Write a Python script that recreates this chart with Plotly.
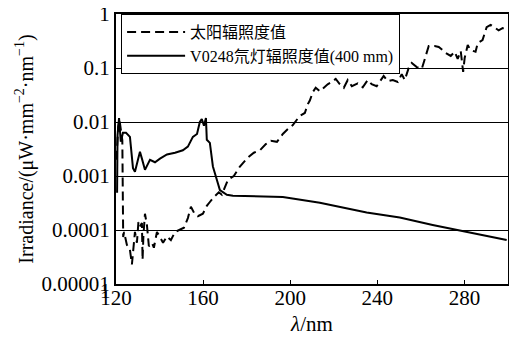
import plotly.graph_objects as go

# Deuterium lamp (V0248, 400 mm) irradiance
d2_wavelength = [120.5, 120.7, 121.4, 122.2, 123.2, 124.6, 126.4, 127.8, 128.7, 131.0, 131.9,
                 133.3, 135.6, 137.9, 140.2, 143.4, 147.1, 150.7, 153.0, 155.3, 157.2, 158.5,
                 159.4, 160.4, 161.3, 161.7, 163.1, 164.5, 166.3, 167.7, 170.9, 173.7, 196.6,
                 204.4, 213.6, 235.1, 250.3, 265.4, 281.0, 299.4]
d2_irradiance = [4.9e-4, 5.7e-3, 0.0118, 0.0043, 0.0063, 0.0063, 0.0053, 0.0014, 0.0012, 0.0028, 0.0021,
                 0.0013, 0.0020, 0.0018, 0.0021, 0.0025, 0.0027, 0.0030, 0.0035, 0.0053, 0.0060, 0.010,
                 0.0114, 0.0085, 0.0118, 0.0047, 0.0041, 0.0015, 8.5e-4, 5.5e-4, 4.5e-4, 4.3e-4, 4.1e-4,
                 3.7e-4, 3.2e-4, 2.1e-4, 1.7e-4, 1.24e-4, 9.2e-5, 6.5e-5]

# Solar irradiance
sun_wavelength = [120.2, 121.0, 121.6, 122.3, 122.9, 123.3, 123.7, 125.0, 126.4, 127.3, 127.8,
                  128.7, 129.6, 130.3, 131.0, 131.9, 132.2, 132.6, 133.3, 134.2, 135.1, 136.5,
                  137.4, 138.8, 140.2, 141.6, 143.4, 145.2, 147.1, 148.9, 151.2, 153.0, 154.4,
                  155.8, 157.6, 159.9, 161.7, 163.1, 165.0, 167.2, 168.6, 171.4, 174.1, 176.9,
                  180.6, 183.3, 186.1, 188.8, 191.1, 193.9, 196.6, 198.9, 201.2, 204.4, 206.7,
                  208.1, 209.0, 210.4, 211.7, 213.6, 215.4, 217.2, 219.1, 220.9, 222.8, 224.6,
                  226.4, 228.3, 231.0, 233.3, 235.6, 237.4, 239.7, 241.1, 242.9, 244.8, 247.1,
                  249.4, 251.2, 252.6, 254.4, 255.8, 258.1, 260.4, 262.7, 263.6, 266.3, 268.2,
                  270.0, 271.4, 273.7, 275.5, 276.9, 278.3, 279.4, 280.1, 281.5, 282.8, 285.1,
                  286.1, 288.3, 290.2, 292.0, 293.9, 295.7, 297.5, 299.4]
sun_irradiance = [0.002, 0.008, 0.011, 0.006, 0.0046, 7.4e-5, 9.2e-5, 5.3e-5, 4.3e-5, 2.3e-5, 4.3e-5,
                  9.2e-5, 5.8e-5, 1.4e-4, 1.15e-4, 1.35e-4, 2.8e-5, 8.1e-5, 2.0e-4, 1.24e-4, 5.0e-5, 5.8e-5,
                  4.7e-5, 9.2e-5, 7.4e-5, 5.8e-5, 7.6e-5, 6.5e-5, 9.2e-5, 1.0e-4, 1.1e-4, 1.66e-4, 2.7e-4,
                  2.1e-4, 1.8e-4, 2.0e-4, 2.8e-4, 3.3e-4, 4.1e-4, 5.0e-4, 4.5e-4, 8.5e-4, 1.0e-3, 1.5e-3,
                  2.2e-3, 2.7e-3, 3.0e-3, 3.9e-3, 4.5e-3, 4.3e-3, 6.0e-3, 7.4e-3, 8.8e-3, 0.013, 0.0147,
                  0.0215, 0.025, 0.036, 0.043, 0.037, 0.044, 0.05, 0.055, 0.063, 0.05, 0.043,
                  0.06, 0.046, 0.052, 0.044, 0.06, 0.05, 0.046, 0.055, 0.071, 0.057, 0.06,
                  0.055, 0.077, 0.06, 0.1, 0.124, 0.104, 0.096, 0.2, 0.255, 0.255, 0.245,
                  0.215, 0.19, 0.167, 0.2, 0.147, 0.206, 0.085, 0.153, 0.266, 0.215, 0.2,
                  0.29, 0.33, 0.57, 0.63, 0.55, 0.5, 0.55, 0.5]

x_ticks = [120, 160, 200, 240, 280]
y_tickvals = [1, 0.1, 0.01, 0.001, 0.0001, 0.00001]
y_ticktext = ["1", "0.1", "0.01", "0.001", "0.0001", "0.00001"]

SERIF = "Liberation Serif, Noto Sans CJK SC"

fig = go.Figure()
fig.add_trace(go.Scatter(
    x=sun_wavelength, y=sun_irradiance, mode="lines", name="太阳辐照度值",
    line=dict(color="black", width=2, dash="9px,5px"),
))
fig.add_trace(go.Scatter(
    x=d2_wavelength, y=d2_irradiance, mode="lines", name="V0248氘灯辐照度值(400 mm)",
    line=dict(color="black", width=2),
))

fig.update_layout(
    width=509, height=331,
    margin=dict(l=108, r=9, t=6, b=55, autoexpand=False),
    paper_bgcolor="white", plot_bgcolor="white",
    font=dict(family=SERIF, size=21, color="black"),
    showlegend=True,
    legend=dict(
        x=0.013, y=1, xanchor="left", yanchor="top",
        bgcolor="white", bordercolor="black", borderwidth=1,
        font=dict(family=SERIF, size=16, color="black"),
        itemwidth=58, tracegroupgap=0,
    ),
    xaxis=dict(
        range=[120, 300], tickvals=x_ticks, ticks="inside", ticklen=4,
        tickcolor="black", showline=True, linecolor="black", linewidth=2, mirror=True,
        showgrid=False, zeroline=False, automargin=False, ticklabelstandoff=-6,
        title=dict(text="<i>λ</i>/nm", font=dict(size=21), standoff=7),
    ),
    yaxis=dict(
        type="log", range=[-5, 0], tickvals=y_tickvals, ticktext=y_ticktext,
        ticks="", showline=True, linecolor="black", linewidth=2, mirror=True,
        showgrid=True, gridcolor="black", gridwidth=1, zeroline=False, automargin=False,
        ticklabeloverflow="allow",
        title=dict(text="Irradiance/(μW·mm<sup>−2</sup>·nm<sup>−1</sup>)", font=dict(size=20), standoff=3),
    ),
)

fig.add_annotation(
    text="1", xref="paper", yref="paper", x=-0.028, y=-0.026,
    xanchor="center", yanchor="middle", showarrow=False, font=dict(size=21),
)

fig.write_html("out.html")
